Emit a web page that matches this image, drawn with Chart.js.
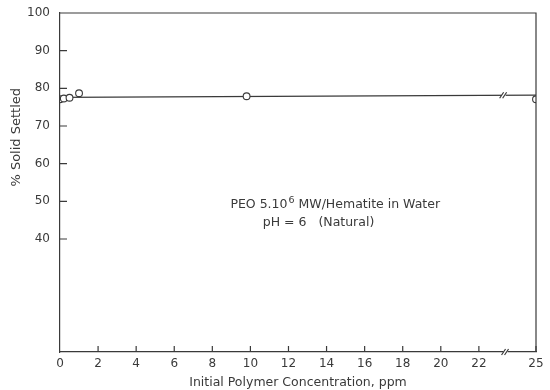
<!DOCTYPE html>
<html>
<head>
<meta charset="utf-8">
<script src="https://cdn.jsdelivr.net/npm/chart.js@4.4.1/dist/chart.umd.min.js"></script>
<style>
  html, body { margin: 0; padding: 0; background: #fff; }
  #wrap { width: 550px; height: 390px; position: relative; }
</style>
</head>
<body>
<div id="wrap"><canvas id="c" width="550" height="390"></canvas></div>
<script>
// ---- data ----
const concentrations = [0, 0.2, 0.5, 1.0, 9.8, 25];
const settled = [77.1, 77.3, 77.5, 78.7, 77.9, 77.1];
const fitConc = [0, 25];
const fitSettled = [77.6, 78.2];
const xTickValues = [0, 2, 4, 6, 8, 10, 12, 14, 16, 18, 20, 22, 25];
const yTickValues = [40, 50, 60, 70, 80, 90, 100];
const xTitle = 'Initial Polymer Concentration, ppm';
const yTitle = '% Solid Settled';
const noteLine1a = 'PEO 5.10';
const noteSup = '6';
const noteLine1b = ' MW/Hematite in Water';
const noteLine2 = 'pH = 6   (Natural)';
const breakAt = 23.4;

const INK = '#3a3a3a';
const FONT = 'DejaVu Sans';

const pointsData = concentrations.map((x, i) => ({ x, y: settled[i] }));
const fitData = fitConc.map((x, i) => ({ x, y: fitSettled[i] }));

const decor = {
  id: 'decor',
  afterDraw(chart) {
    const { ctx, chartArea: a, scales: { x, y } } = chart;
    ctx.save();
    ctx.strokeStyle = INK;
    ctx.lineWidth = 1.2;
    // top and right frame
    ctx.beginPath();
    ctx.moveTo(a.left, a.top);
    ctx.lineTo(a.right, a.top);
    ctx.lineTo(a.right, a.bottom);
    ctx.stroke();
    // inward tick marks
    ctx.beginPath();
    xTickValues.forEach(v => {
      if (v === 0) return;
      const px = x.getPixelForValue(v);
      ctx.moveTo(px, a.bottom);
      ctx.lineTo(px, a.bottom - 6);
    });
    yTickValues.forEach(v => {
      if (v === 100) return;
      const py = y.getPixelForValue(v);
      ctx.moveTo(a.left, py);
      ctx.lineTo(a.left + 7, py);
    });
    ctx.stroke();
    // axis break marks
    const drawBreak = (px, py) => {
      ctx.save();
      ctx.fillStyle = '#fff';
      ctx.fillRect(px - 2, py - 3, 4, 6);
      ctx.restore();
      ctx.beginPath();
      ctx.moveTo(px - 4, py + 3); ctx.lineTo(px, py - 3);
      ctx.moveTo(px - 1, py + 3); ctx.lineTo(px + 3, py - 3);
      ctx.stroke();
    };
    drawBreak(x.getPixelForValue(breakAt), a.bottom);
    const lineY = fitSettled[0] + (fitSettled[1] - fitSettled[0]) * (breakAt - fitConc[0]) / (fitConc[1] - fitConc[0]);
    drawBreak(x.getPixelForValue(breakAt - 0.1), y.getPixelForValue(lineY));
    // y-axis title (placed as in the original, above the axis centre)
    ctx.save();
    ctx.fillStyle = INK;
    ctx.font = '13px ' + FONT;
    ctx.textAlign = 'center';
    ctx.textBaseline = 'middle';
    ctx.translate(17, y.getPixelForValue(67));
    ctx.rotate(-Math.PI / 2);
    ctx.fillText(yTitle, 0, 0);
    ctx.restore();
    // annotation text
    ctx.fillStyle = INK;
    ctx.textBaseline = 'middle';
    ctx.textAlign = 'left';
    ctx.font = '12.5px ' + FONT;
    const tx = x.getPixelForValue(8.95);
    const ty = y.getPixelForValue(49.0);
    ctx.fillText(noteLine1a, tx, ty);
    let w = ctx.measureText(noteLine1a).width;
    ctx.font = '9.5px ' + FONT;
    ctx.fillText(noteSup, tx + w + 1, ty - 5);
    const ws = ctx.measureText(noteSup).width;
    ctx.font = '12.5px ' + FONT;
    ctx.fillText(noteLine1b, tx + w + ws + 1, ty);
    ctx.fillText(noteLine2, x.getPixelForValue(10.65), y.getPixelForValue(44.3));
    ctx.restore();
  }
};

new Chart(document.getElementById('c'), {
  type: 'scatter',
  data: {
    datasets: [
      {
        label: 'fit',
        type: 'line',
        data: fitData,
        borderColor: INK,
        borderWidth: 1.3,
        pointRadius: 0,
        fill: false,
        order: 2
      },
      {
        label: 'data',
        data: pointsData,
        pointStyle: 'circle',
        pointRadius: 3.4,
        pointBorderWidth: 1.1,
        pointBorderColor: INK,
        pointBackgroundColor: '#fff',
        order: 1
      }
    ]
  },
  options: {
    responsive: false,
    animation: false,
    layout: { padding: { top: 13, right: 14, left: 0, bottom: 0 } },
    plugins: { legend: { display: false }, tooltip: { enabled: false } },
    scales: {
      x: {
        type: 'linear',
        min: 0,
        max: 25,
        afterBuildTicks(scale) { scale.ticks = xTickValues.map(v => ({ value: v })); },
        afterFit(scale) { scale.height = 38; },
        grid: { display: false, drawTicks: false },
        border: { display: true, color: INK, width: 1.2 },
        ticks: { color: INK, font: { family: FONT, size: 12 }, padding: 5, maxRotation: 0, autoSkip: false },
        title: { display: true, text: xTitle, color: INK, font: { family: FONT, size: 12.5 }, padding: { top: 2, bottom: 0 } }
      },
      y: {
        type: 'linear',
        min: 10,
        max: 100,
        afterBuildTicks(scale) { scale.ticks = yTickValues.map(v => ({ value: v })); },
        afterFit(scale) { scale.width = 60; scale.paddingTop = 0; scale.paddingBottom = 0; },
        grid: { display: false, drawTicks: false },
        border: { display: true, color: INK, width: 1.2 },
        ticks: { color: INK, font: { family: FONT, size: 12, lineHeight: 0.8 }, padding: 10 },
        title: { display: false, text: yTitle }
      }
    }
  },
  plugins: [decor]
});
</script>
</body>
</html>
